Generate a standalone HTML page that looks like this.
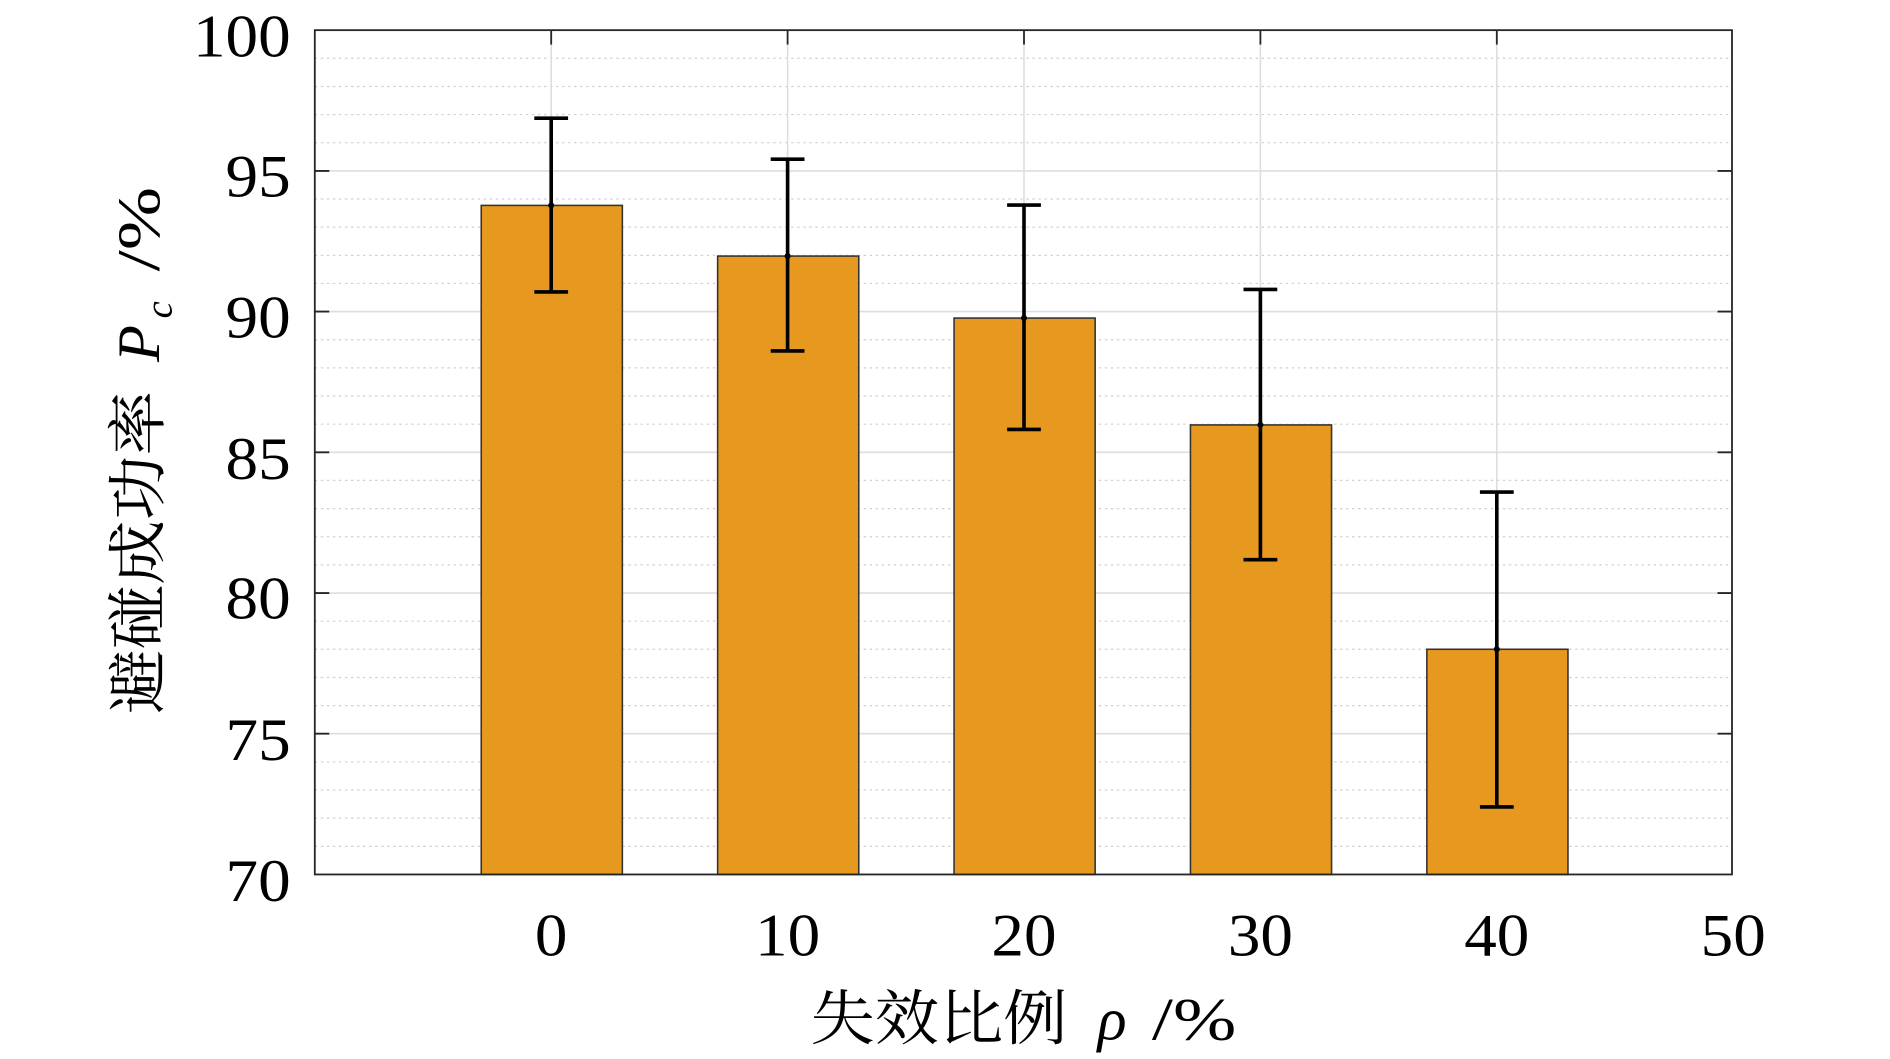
<!DOCTYPE html>
<html><head><meta charset="utf-8"><style>
html,body{margin:0;padding:0;background:#fff;}
svg{display:block;}
text{font-family:"Liberation Serif","Noto Serif CJK SC",serif;fill:#000;}
</style></head><body>
<svg width="1890" height="1059" viewBox="0 0 1567 878" preserveAspectRatio="none" xmlns="http://www.w3.org/2000/svg">
<rect width="1567" height="878" fill="#fff"/>
<g stroke="#d0d0d0" stroke-width="1" stroke-dasharray="2,3">
<path d="M261 48.3H1436M261 71.7H1436M261 95H1436M261 118.3H1436M261 165H1436M261 188.3H1436M261 211.7H1436M261 235H1436M261 281.7H1436M261 305H1436M261 328.3H1436M261 351.7H1436M261 398.3H1436M261 421.7H1436M261 445H1436M261 468.3H1436M261 515H1436M261 538.3H1436M261 561.7H1436M261 585H1436M261 631.7H1436M261 655H1436M261 678.3H1436M261 701.7H1436"/>
</g>
<g stroke="#dedede" stroke-width="1.3">
<path d="M261 141.7H1436M261 258.3H1436M261 375H1436M261 491.7H1436M261 608.3H1436"/>
<path d="M457 25V725M653 25V725M849 25V725M1045 25V725M1241 25V725"/>
</g>
<g fill="#e6991e" stroke="#333" stroke-width="1.3">
<rect x="399" y="170.3" width="117" height="554.7"/>
<rect x="595" y="212.3" width="117" height="512.7"/>
<rect x="791" y="263.7" width="117" height="461.3"/>
<rect x="987" y="352.3" width="117" height="372.7"/>
<rect x="1183" y="538.3" width="117" height="186.7"/>
</g>
<g stroke="#000" stroke-width="3" fill="none">
<path d="M457 98V242M443 98H471M443 242H471"/>
<path d="M653 132V291M639 132H667M639 291H667"/>
<path d="M849 170V356M835 170H863M835 356H863"/>
<path d="M1045 240V464M1031 240H1059M1031 464H1059"/>
<path d="M1241 408V669M1227 408H1255M1227 669H1255"/>
</g>
<g fill="#000"><circle cx="457" cy="170.3" r="2.5"/><circle cx="653" cy="212.3" r="2.5"/><circle cx="849" cy="263.7" r="2.5"/><circle cx="1045" cy="352.3" r="2.5"/><circle cx="1241" cy="538.3" r="2.5"/></g>
<g stroke="#262626" stroke-width="1.5" fill="none">
<rect x="261" y="25" width="1175" height="700"/>
<path d="M261 141.7h12M261 258.3h12M261 375h12M261 491.7h12M261 608.3h12M1436 141.7h-12M1436 258.3h-12M1436 375h-12M1436 491.7h-12M1436 608.3h-12"/>
<path d="M457 25v12M653 25v12M849 25v12M1045 25v12M1241 25v12"/>
</g>
<g font-size="50" text-anchor="end">
<text x="241" y="47" textLength="81" lengthAdjust="spacingAndGlyphs">100</text>
<text x="241" y="163" textLength="54" lengthAdjust="spacingAndGlyphs">95</text>
<text x="241" y="280" textLength="54" lengthAdjust="spacingAndGlyphs">90</text>
<text x="241" y="397" textLength="54" lengthAdjust="spacingAndGlyphs">85</text>
<text x="241" y="513" textLength="54" lengthAdjust="spacingAndGlyphs">80</text>
<text x="241" y="630" textLength="54" lengthAdjust="spacingAndGlyphs">75</text>
<text x="241" y="747" textLength="54" lengthAdjust="spacingAndGlyphs">70</text>
</g>
<g font-size="50" text-anchor="middle">
<text x="457" y="792" textLength="27" lengthAdjust="spacingAndGlyphs">0</text>
<text x="653" y="792" textLength="54" lengthAdjust="spacingAndGlyphs">10</text>
<text x="849" y="792" textLength="54" lengthAdjust="spacingAndGlyphs">20</text>
<text x="1045" y="792" textLength="54" lengthAdjust="spacingAndGlyphs">30</text>
<text x="1241" y="792" textLength="54" lengthAdjust="spacingAndGlyphs">40</text>
<text x="1437" y="792" textLength="54" lengthAdjust="spacingAndGlyphs">50</text>
</g>
<g font-size="50">
<text x="672" y="862" textLength="213" lengthAdjust="spacingAndGlyphs">失效比例</text>
<text x="910" y="862" font-style="italic">ρ</text>
<text x="955" y="862" textLength="70" lengthAdjust="spacingAndGlyphs">/%</text>
</g>
<g font-size="50" transform="translate(132,592) rotate(-90)">
<text x="0" y="0" textLength="268" lengthAdjust="spacingAndGlyphs">避碰成功率</text>
<text x="292" y="0" font-style="italic">P</text>
<text x="328" y="10" font-style="italic" font-size="32">c</text>
<text x="367" y="0" textLength="70" lengthAdjust="spacingAndGlyphs">/%</text>
</g>
</svg>
</body></html>
